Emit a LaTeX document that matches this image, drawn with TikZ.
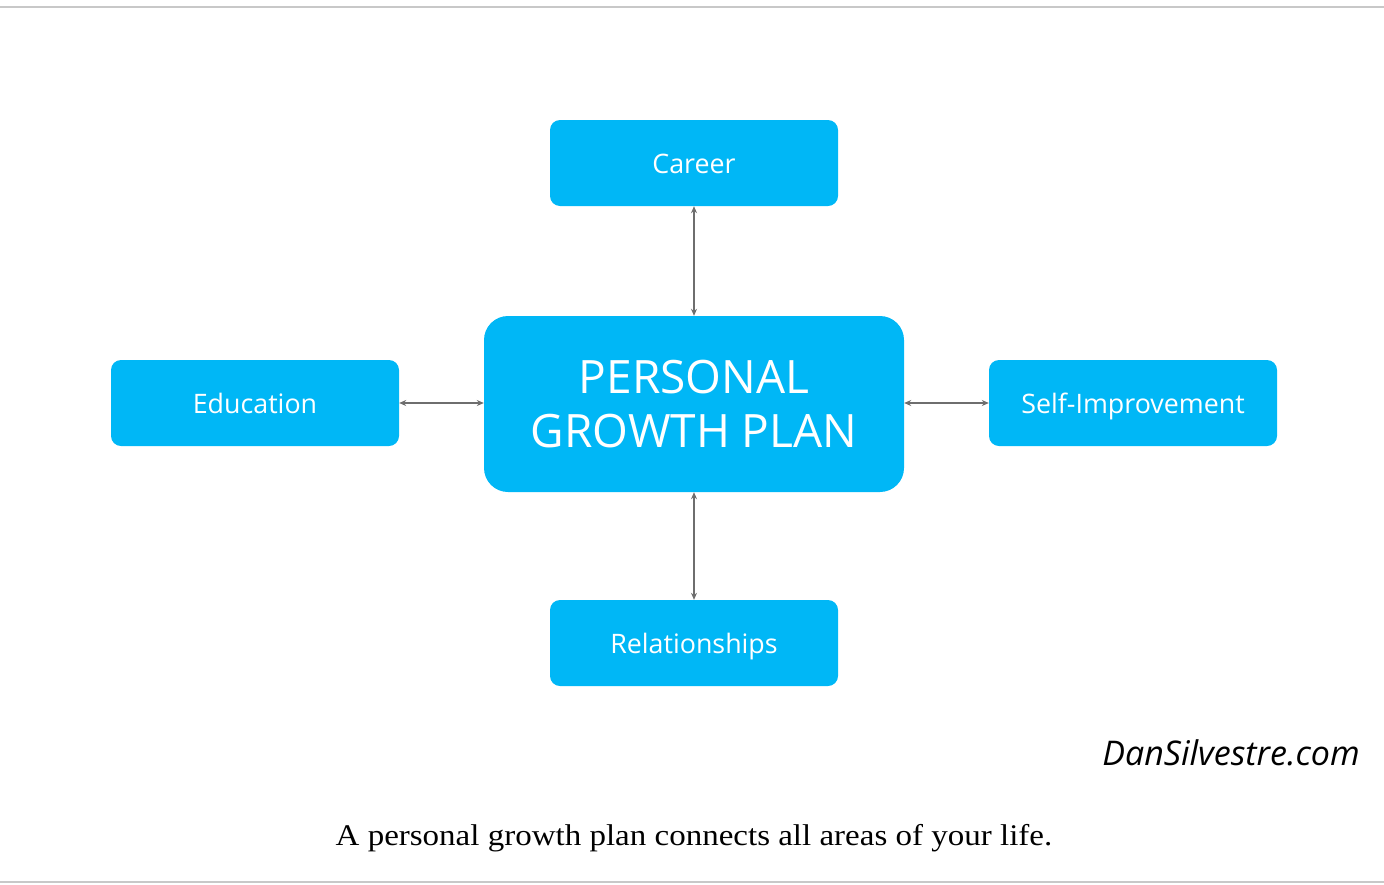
\documentclass[tikz,border=0pt]{standalone}
\usepackage{fontspec}
\setmainfont{Open Sans}
\newfontfamily\capfont[FakeStretch=1.1]{Liberation Serif}
\usetikzlibrary{arrows.meta}
\definecolor{boxblue}{RGB}{0,183,246}
\definecolor{rulegray}{RGB}{200,200,200}
\definecolor{arrowgray}{RGB}{110,110,110}
\tikzset{
  smallbox/.style={fill=boxblue, rounded corners=10pt, minimum width=288pt, minimum height=86pt, text=white, font=\fontsize{26.8}{30}\selectfont, inner sep=0pt, text height=20pt, text depth=0pt},
  bigbox/.style={fill=boxblue, rounded corners=24pt, minimum width=420pt, minimum height=176pt, text=white, font=\fontsize{46}{54}\selectfont, align=center, inner sep=0pt},
  link/.style={draw=arrowgray, line width=1.3pt, {Stealth[length=7pt,width=6pt]}-{Stealth[length=7pt,width=6pt]}},
  rule/.style={draw=rulegray, line width=2pt}
}
\begin{document}
\begin{tikzpicture}[x=1pt,y=-1pt]
\useasboundingbox (0,0) rectangle (1384,884);
\coordinate (tl) at (0,7);
\coordinate (tr) at (1384,7);
\coordinate (bl) at (0,882);
\coordinate (br) at (1384,882);
\draw[rule] (tl) -- (tr);
\draw[rule] (bl) -- (br);
\node[bigbox] (center) at (694,404) {PERSONAL\\GROWTH PLAN};
\node[smallbox] (career) at (694,163) {Career};
\node[smallbox] (edu) at (255,403) {Education};
\node[smallbox] (self) at (1133,403) {Self-Improvement};
\node[smallbox] (rel) at (694,643) {Relationships};
\draw[link] (career.south) -- (center.north);
\draw[link] (rel.north) -- (center.south);
\draw[link] (edu.east) -- (edu.east -| center.west);
\draw[link] (self.west) -- (self.west -| center.east);
\node[anchor=base east, font=\itshape\fontsize{34}{40}\selectfont, text=black, inner sep=0pt] (mark) at (1360,765) {DanSilvestre.com};
\node[anchor=base, font=\capfont\fontsize{30}{36}\selectfont, text=black, inner sep=0pt] (caption) at (694,845) {A personal growth plan connects all areas of your life.};
\end{tikzpicture}
\end{document}
